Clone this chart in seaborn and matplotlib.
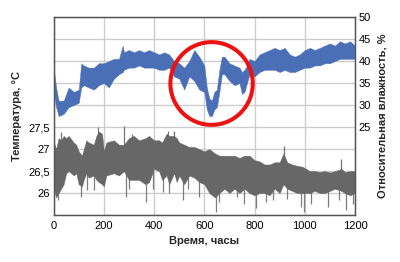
import matplotlib
matplotlib.use("Agg")
import matplotlib.pyplot as plt
import seaborn as sns
import pandas as pd
import numpy as np
from matplotlib.patches import Ellipse
from matplotlib.ticker import FixedLocator, FixedFormatter

# ---------------- data ----------------
# Relative humidity band (right axis): hour, lower edge, upper edge
hum_hours = [0, 10, 20, 40, 60, 80, 100, 110, 120, 140, 160, 180, 200, 220, 240, 260,
             275, 280, 300, 320, 340, 360, 380, 400, 420, 440, 460, 480, 500, 520, 540,
             560, 580, 600, 610, 620, 630, 640, 650, 660, 670, 680, 700, 720, 740, 750,
             760, 770, 780, 800, 820, 840, 860, 880, 900, 920, 940, 960, 980, 1000, 1020,
             1040, 1060, 1080, 1100, 1120, 1140, 1160, 1180, 1200]
hum_low = [33, 29.5, 27.5, 28, 29.5, 30, 30.5, 34, 34.5, 34, 33.5, 34.5, 35, 34, 36, 37,
           37.5, 38, 38.5, 38.5, 39, 38.5, 38.5, 38.5, 38, 38, 38.5, 36.5, 36, 33.5, 36.5,
           35.5, 33.5, 33, 29, 27.5, 27.5, 29, 29.5, 33, 37, 37, 35.5, 34.5, 35, 32.5,
           33, 35, 37, 36.5, 37.5, 38, 38, 38, 37.5, 38, 37.5, 37.5, 38, 38.5, 38.5,
           39, 39, 39.5, 39.5, 40, 40.5, 40.5, 40.5, 40.5]
hum_high = [38.5, 34, 31, 31, 34, 33, 33.5, 39.5, 39, 38.5, 38.5, 39.5, 39.5, 40, 40.5, 40.5,
            43.5, 42, 42.5, 42, 42.5, 42, 42.5, 42, 41.5, 42, 41.5, 40, 39.5, 38.5, 40,
            42.5, 41, 39, 34, 31.5, 31, 33, 33.5, 38, 41, 41, 39.5, 39, 38.5, 37.5,
            38, 39, 40.5, 40, 41.5, 42, 42.5, 43, 42.5, 43, 41.5, 41, 41.5, 42.5, 43,
            42.5, 43, 43.5, 44, 43.5, 44.5, 44, 44.5, 43.5]

# Temperature band (left axis): hour, lower edge, upper edge
tmp_hours = [0, 5, 10, 20, 30, 40, 50, 60, 80, 90, 100, 113, 120, 130, 140, 160, 170, 180,
             193, 200, 210, 240, 260, 280, 300, 320, 340, 366, 380, 400, 420, 432,
             450, 460, 480, 490, 500, 520, 540, 560, 580, 600, 620, 643, 660, 680, 700,
             720, 740, 760, 780, 800, 820, 840, 860, 880, 900, 915, 930, 950, 970, 990,
             1006, 1020, 1040, 1060, 1080, 1100, 1120, 1146, 1160, 1180, 1200]
tmp_low = [26.3, 26.0, 25.9, 26.0, 26.1, 26.2, 26.45, 26.5, 26.4, 26.45, 26.2, 26.15, 26.3,
           26.45, 26.35, 26.4, 26.3, 26.25, 26.2, 26.15, 26.4, 26.45, 26.4, 26.5, 26.3,
           26.3, 26.3, 26.2, 26.25, 26.55, 26.5, 26.3, 26.4, 26.2, 26.45, 26.25,
           26.4, 26.2, 26.4, 26.35, 26.25, 26.2, 26.0, 25.9, 26.0, 26.1, 26.0, 26.1,
           26.0, 26.1, 26.0, 25.95, 26.0, 26.0, 25.95, 26.1, 26.0, 26.2, 26.1, 26.05,
           26.0, 26.0, 26.0, 26.0, 26.05, 26.0, 26.0, 26.05, 26.1, 26.05, 26.0, 25.95, 26.0]
tmp_high = [27.1, 27.1, 27.0, 27.25, 27.2, 27.3, 27.25, 27.3, 27.15, 27.1, 26.95, 26.85,
            27.0, 27.2, 27.15, 27.1, 27.3, 27.4, 27.35, 26.95, 27.15, 27.2, 27.1, 27.1,
            27.25, 27.3, 27.2, 27.25, 27.3, 27.2, 27.2, 27.15, 27.35, 27.3, 27.3,
            27.25, 27.15, 27.1, 27.05, 27.05, 27.0, 26.95, 27.0, 26.9, 26.85, 26.85, 26.85,
            26.85, 26.8, 26.85, 26.85, 26.75, 26.72, 26.65, 26.65, 26.7, 26.7, 26.9, 26.7,
            26.65, 26.62, 26.6, 26.55, 26.5, 26.5, 26.48, 26.5, 26.47, 26.5, 26.55, 26.48,
            26.5, 26.5]

# Thin spikes of the temperature record
dn_hours = [18, 111, 134, 161, 287, 301, 367, 394, 434, 461, 514, 534, 580, 645, 658,
            731, 758, 805, 845, 875, 928, 985, 998, 1025, 1091, 1138, 1165, 1191]
dn_low = [25.84, 25.9, 26.06, 26.06, 25.91, 26.1, 25.8, 26.1, 26.03, 26.0, 25.84, 26.1,
          25.91, 25.58, 25.8, 25.91, 25.76, 25.65, 25.8, 25.84, 25.87, 25.69, 25.58, 25.76,
          25.69, 25.84, 25.61, 25.76]
up_hours = [31, 177, 280, 314, 454, 480, 918, 1145]
up_high = [27.38, 27.5, 27.53, 27.34, 27.42, 27.42, 27.08, 26.78]

x_ticks = [0, 200, 400, 600, 800, 1000, 1200]
t_ticks = [25.5, 26, 26.5, 27, 27.5, 28, 28.5, 29, 29.5, 30]
t_labels = ["", "26", "26,5", "27", "27,5", "", "", "", "", ""]
h_ticks = [5, 10, 15, 20, 25, 30, 35, 40, 45, 50]
h_labels = ["", "", "", "", "25", "30", "35", "40", "45", "50"]

x_label = "Время, часы"
t_label = "Температура, °С"
h_label = "Относительная влажность, %"

# ---------------- style ----------------
sns.set_style("white")
plt.rcParams["font.family"] = ["Liberation Sans", "DejaVu Sans"]

BLUE = "#4a6fb6"
GRAY = "#676767"
GRID = "#cccccc"
SPINE = "#555555"

hum_df = pd.DataFrame({"hour": hum_hours * 2, "value": hum_low + hum_high})
tmp_df = pd.DataFrame({"hour": tmp_hours * 2, "value": tmp_low + tmp_high})

fig = plt.figure(figsize=(4.0, 2.62), dpi=100)
ax = fig.add_axes([0.134, 0.179, 0.7535, 0.756])
ax2 = ax.twinx()

sns.lineplot(data=tmp_df, x="hour", y="value", ax=ax, color=GRAY, linewidth=0,
             estimator="mean", errorbar=("pi", 100),
             err_kws={"alpha": 1, "linewidth": 0.3, "edgecolor": GRAY})
# thin spikes attached to the band
ax.vlines(dn_hours, dn_low, np.interp(dn_hours, tmp_hours, tmp_low) + 0.05,
          color=GRAY, linewidth=0.9, alpha=0.85)
ax.vlines(up_hours, np.interp(up_hours, tmp_hours, tmp_high) - 0.05, up_high,
          color=GRAY, linewidth=0.9, alpha=0.9)

sns.lineplot(data=hum_df, x="hour", y="value", ax=ax2, color=BLUE, linewidth=0,
             estimator="mean", errorbar=("pi", 100),
             err_kws={"alpha": 1, "linewidth": 0.3, "edgecolor": BLUE})

ax.set_xlim(0, 1200)
ax.set_ylim(25.5, 30)
ax2.set_ylim(5, 50)

ax.xaxis.set_major_locator(FixedLocator(x_ticks))
ax.yaxis.set_major_locator(FixedLocator(t_ticks))
ax.yaxis.set_major_formatter(FixedFormatter(t_labels))
ax2.yaxis.set_major_locator(FixedLocator(h_ticks))
ax2.yaxis.set_major_formatter(FixedFormatter(h_labels))

ax.set_axisbelow(True)
ax.grid(True, color=GRID, linewidth=1.0)
ax2.grid(False)

for a in (ax, ax2):
    for s in a.spines.values():
        s.set_color(SPINE)
        s.set_linewidth(0.9)
ax.tick_params(axis="both", length=0, labelsize=8, colors="black")
ax.tick_params(axis="y", pad=2.5)
ax.tick_params(axis="x", pad=4)
ax2.tick_params(axis="y", length=0, labelsize=8, colors="black", pad=2.5)

ax.set_xlabel(x_label, fontsize=8, fontweight="bold", labelpad=3.5)
ax.set_ylabel(t_label, fontsize=8, fontweight="bold", labelpad=5)
ax2.set_ylabel(h_label, fontsize=8, fontweight="bold", labelpad=5, rotation=90)

circle = Ellipse((629, 34.9), width=328, height=18.8, fill=False,
                 edgecolor="#ee1111", linewidth=2.9, zorder=5)
ax2.add_patch(circle)

fig.savefig("out.png", dpi=100)
